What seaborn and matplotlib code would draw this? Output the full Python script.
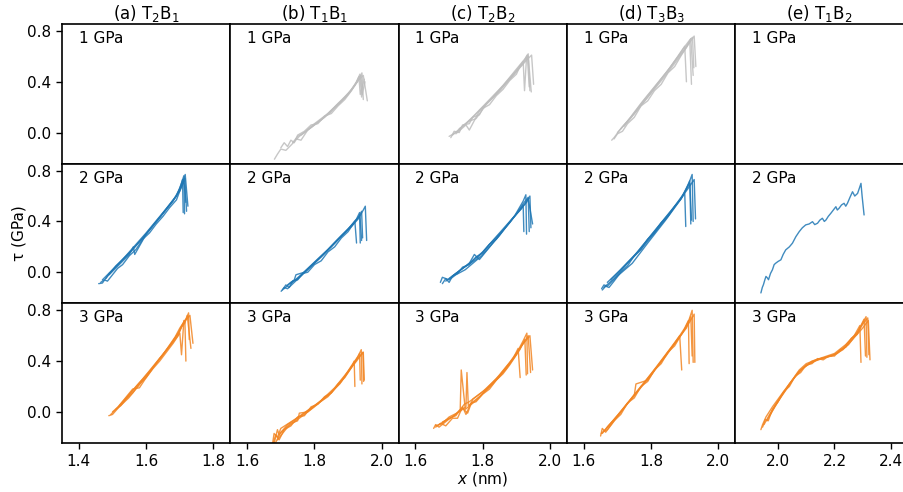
import matplotlib
matplotlib.use("Agg")
import matplotlib.pyplot as plt
import seaborn as sns
import pandas as pd

# ---------------- data ----------------
col_titles = ["(a) T$_2$B$_1$", "(b) T$_1$B$_1$", "(c) T$_2$B$_2$", "(d) T$_3$B$_3$", "(e) T$_1$B$_2$"]
row_labels = ["1 GPa", "2 GPa", "3 GPa"]
col_xlims = [(1.35, 1.85), (1.55, 2.05), (1.55, 2.05), (1.55, 2.05), (1.848, 2.445)]
col_xticks = [[1.4, 1.6, 1.8], [1.6, 1.8, 2.0], [1.6, 1.8, 2.0], [1.6, 1.8, 2.0], [2.0, 2.2, 2.4]]
yticks = [0.0, 0.4, 0.8]

# row 1 (1 GPa)
b1_x = [[1.681, 1.69, 1.70, 1.715, 1.73, 1.755, 1.794, 1.844, 1.893, 1.928, 1.941, 1.945],
        [1.735, 1.75, 1.77, 1.80, 1.84, 1.88, 1.91, 1.93, 1.945, 1.957],
        [1.745, 1.76, 1.78, 1.82, 1.86, 1.90, 1.92, 1.935, 1.94, 1.95],
        [1.76, 1.79, 1.83, 1.87, 1.905, 1.925, 1.932, 1.936, 1.948],
        [1.70, 1.71, 1.72, 1.73, 1.74, 1.75, 1.77, 1.79, 1.81, 1.83, 1.85, 1.87, 1.89, 1.91, 1.93, 1.938, 1.942]]
b1_y = [[-0.21, -0.17, -0.13, -0.14, -0.10, -0.03, 0.05, 0.15, 0.28, 0.40, 0.47, 0.26],
        [-0.08, -0.03, 0.00, 0.07, 0.15, 0.25, 0.34, 0.41, 0.45, 0.25],
        [-0.05, -0.06, 0.02, 0.10, 0.20, 0.30, 0.37, 0.46, 0.28, 0.40],
        [-0.02, 0.04, 0.12, 0.23, 0.32, 0.40, 0.44, 0.30, 0.42],
        [-0.12, -0.08, -0.11, -0.06, -0.08, -0.02, 0.01, 0.06, 0.07, 0.13, 0.15, 0.21, 0.26, 0.33, 0.42, 0.45, 0.30]]

c1_x = [[1.70, 1.72, 1.75, 1.78, 1.82, 1.86, 1.90, 1.925, 1.935, 1.94],
        [1.71, 1.74, 1.77, 1.80, 1.84, 1.88, 1.91, 1.93, 1.945, 1.951],
        [1.72, 1.75, 1.76, 1.79, 1.83, 1.87, 1.90, 1.92, 1.924, 1.93],
        [1.73, 1.76, 1.78, 1.81, 1.85, 1.89, 1.915, 1.935, 1.944],
        [1.705, 1.715, 1.73, 1.74, 1.76, 1.77, 1.79, 1.80, 1.82, 1.84, 1.86, 1.88, 1.90, 1.91, 1.92, 1.932, 1.938]]
c1_y = [[-0.03, 0.00, 0.07, 0.15, 0.26, 0.37, 0.50, 0.58, 0.62, 0.33],
        [-0.02, 0.05, 0.12, 0.20, 0.30, 0.42, 0.51, 0.57, 0.61, 0.38],
        [-0.01, 0.06, 0.02, 0.17, 0.28, 0.40, 0.49, 0.56, 0.33, 0.59],
        [0.03, 0.09, 0.11, 0.22, 0.33, 0.45, 0.53, 0.60, 0.32],
        [-0.04, 0.01, 0.00, 0.06, 0.07, 0.12, 0.14, 0.19, 0.22, 0.29, 0.34, 0.41, 0.46, 0.52, 0.55, 0.61, 0.36]]

d1_x = [[1.683, 1.69, 1.707, 1.74, 1.78, 1.82, 1.856, 1.895, 1.915, 1.923, 1.927],
        [1.70, 1.73, 1.77, 1.81, 1.85, 1.88, 1.90, 1.905],
        [1.71, 1.75, 1.79, 1.83, 1.87, 1.90, 1.915, 1.92],
        [1.72, 1.76, 1.80, 1.84, 1.88, 1.91, 1.928, 1.933],
        [1.69, 1.70, 1.715, 1.73, 1.75, 1.77, 1.79, 1.81, 1.83, 1.85, 1.87, 1.89, 1.905, 1.918, 1.925]]
d1_y = [[-0.06, -0.04, 0.02, 0.12, 0.26, 0.39, 0.51, 0.66, 0.73, 0.75, 0.51],
        [0.00, 0.09, 0.23, 0.36, 0.49, 0.60, 0.68, 0.40],
        [0.03, 0.15, 0.28, 0.42, 0.56, 0.66, 0.72, 0.38],
        [0.05, 0.18, 0.31, 0.44, 0.58, 0.69, 0.76, 0.52],
        [-0.05, -0.01, 0.01, 0.07, 0.12, 0.21, 0.25, 0.33, 0.38, 0.47, 0.52, 0.61, 0.67, 0.74, 0.45]]

# row 2 (2 GPa)
a2_x = [[1.459, 1.47, 1.49, 1.52, 1.55, 1.60, 1.65, 1.69, 1.705, 1.712, 1.714],
        [1.47, 1.50, 1.53, 1.56, 1.60, 1.64, 1.68, 1.70, 1.715, 1.72],
        [1.48, 1.51, 1.55, 1.59, 1.63, 1.67, 1.69, 1.708, 1.716, 1.724],
        [1.49, 1.52, 1.55, 1.562, 1.566, 1.60, 1.64, 1.68, 1.70, 1.708, 1.71],
        [1.465, 1.475, 1.485, 1.50, 1.515, 1.53, 1.55, 1.57, 1.59, 1.61, 1.63, 1.65, 1.67, 1.69, 1.70, 1.712, 1.718]]
a2_y = [[-0.09, -0.085, -0.01, 0.07, 0.16, 0.31, 0.47, 0.60, 0.70, 0.76, 0.46],
        [-0.06, 0.02, 0.10, 0.18, 0.30, 0.43, 0.57, 0.64, 0.74, 0.48],
        [-0.05, 0.05, 0.15, 0.27, 0.40, 0.53, 0.60, 0.70, 0.77, 0.52],
        [-0.02, 0.06, 0.14, 0.20, 0.14, 0.30, 0.43, 0.56, 0.66, 0.73, 0.47],
        [-0.08, -0.06, -0.07, -0.02, 0.03, 0.06, 0.13, 0.18, 0.26, 0.31, 0.38, 0.44, 0.51, 0.57, 0.64, 0.72, 0.55]]

b2_x = [[1.701, 1.71, 1.72, 1.74, 1.78, 1.82, 1.86, 1.90, 1.925, 1.934, 1.936],
        [1.71, 1.73, 1.75, 1.79, 1.83, 1.87, 1.91, 1.93, 1.945, 1.951, 1.955],
        [1.72, 1.74, 1.745, 1.77, 1.81, 1.85, 1.89, 1.92, 1.925],
        [1.73, 1.76, 1.80, 1.84, 1.88, 1.915, 1.935, 1.94],
        [1.705, 1.715, 1.725, 1.735, 1.75, 1.765, 1.78, 1.80, 1.82, 1.84, 1.86, 1.88, 1.90, 1.92, 1.93, 1.94, 1.943]]
b2_y = [[-0.15, -0.12, -0.13, -0.08, 0.02, 0.12, 0.23, 0.34, 0.42, 0.47, 0.23],
        [-0.13, -0.08, -0.05, 0.05, 0.15, 0.26, 0.36, 0.42, 0.49, 0.52, 0.25],
        [-0.10, -0.06, -0.02, 0.00, 0.10, 0.20, 0.31, 0.40, 0.23],
        [-0.09, -0.02, 0.08, 0.18, 0.29, 0.38, 0.45, 0.25],
        [-0.14, -0.10, -0.12, -0.07, -0.06, -0.01, 0.00, 0.06, 0.09, 0.16, 0.20, 0.27, 0.32, 0.40, 0.43, 0.48, 0.27]]

c2_x = [[1.674, 1.68, 1.70, 1.72, 1.748, 1.797, 1.85, 1.896, 1.92, 1.928, 1.93],
        [1.69, 1.71, 1.74, 1.78, 1.82, 1.86, 1.90, 1.93, 1.94, 1.943],
        [1.70, 1.73, 1.76, 1.775, 1.79, 1.83, 1.87, 1.91, 1.92, 1.922],
        [1.71, 1.75, 1.80, 1.84, 1.88, 1.915, 1.935, 1.948],
        [1.68, 1.69, 1.70, 1.71, 1.725, 1.74, 1.76, 1.78, 1.80, 1.82, 1.84, 1.86, 1.88, 1.90, 1.92, 1.935, 1.938]]
c2_y = [[-0.08, -0.04, -0.06, -0.02, 0.02, 0.13, 0.29, 0.45, 0.56, 0.61, 0.30],
        [-0.07, -0.03, 0.03, 0.10, 0.22, 0.33, 0.46, 0.55, 0.60, 0.35],
        [-0.05, 0.01, 0.07, 0.14, 0.10, 0.23, 0.36, 0.49, 0.53, 0.32],
        [-0.03, 0.05, 0.16, 0.28, 0.40, 0.50, 0.58, 0.38],
        [-0.09, -0.05, -0.08, -0.03, -0.01, 0.04, 0.06, 0.12, 0.15, 0.22, 0.26, 0.33, 0.39, 0.46, 0.54, 0.59, 0.32]]

d2_x = [[1.653, 1.66, 1.67, 1.70, 1.744, 1.79, 1.843, 1.887, 1.912, 1.922, 1.925],
        [1.66, 1.69, 1.73, 1.77, 1.81, 1.85, 1.88, 1.90, 1.903],
        [1.67, 1.71, 1.75, 1.79, 1.83, 1.87, 1.90, 1.915, 1.918],
        [1.68, 1.72, 1.76, 1.80, 1.84, 1.88, 1.91, 1.928, 1.932],
        [1.655, 1.665, 1.675, 1.69, 1.71, 1.73, 1.75, 1.77, 1.79, 1.81, 1.83, 1.85, 1.87, 1.89, 1.905, 1.915, 1.92]]
d2_y = [[-0.13, -0.10, -0.11, -0.03, 0.07, 0.23, 0.41, 0.57, 0.70, 0.77, 0.40],
        [-0.12, -0.05, 0.07, 0.18, 0.31, 0.44, 0.55, 0.62, 0.36],
        [-0.08, 0.02, 0.13, 0.26, 0.39, 0.52, 0.63, 0.70, 0.38],
        [-0.06, 0.05, 0.16, 0.29, 0.42, 0.55, 0.66, 0.73, 0.42],
        [-0.14, -0.11, -0.12, -0.07, 0.00, 0.05, 0.13, 0.18, 0.26, 0.31, 0.39, 0.44, 0.52, 0.58, 0.66, 0.72, 0.41]]

e2_x = [[1.939, 1.944, 1.948, 1.953, 1.957, 1.962, 1.966, 1.973, 1.98, 1.986, 1.992, 2.0, 2.01, 2.018,
         2.027, 2.04, 2.051, 2.063, 2.075, 2.086, 2.098, 2.11, 2.122, 2.13, 2.14, 2.148, 2.157, 2.164,
         2.17, 2.178, 2.187, 2.196, 2.205, 2.21, 2.216, 2.225, 2.234, 2.24, 2.246, 2.255, 2.264,
         2.272, 2.282, 2.288, 2.294, 2.298, 2.305]]
e2_y = [[-0.163, -0.12, -0.098, -0.06, -0.033, -0.045, -0.059, -0.01, 0.02, 0.06, 0.072, 0.085, 0.098,
         0.14, 0.176, 0.20, 0.229, 0.28, 0.32, 0.35, 0.373, 0.38, 0.398, 0.375, 0.386, 0.41, 0.425,
         0.40, 0.412, 0.44, 0.464, 0.49, 0.516, 0.49, 0.503, 0.53, 0.543, 0.52, 0.543, 0.59, 0.634,
         0.60, 0.621, 0.66, 0.70, 0.60, 0.451]]

# row 3 (3 GPa)
a3_x = [[1.489, 1.50, 1.52, 1.548, 1.60, 1.647, 1.686, 1.70, 1.72, 1.726, 1.728],
        [1.50, 1.53, 1.57, 1.61, 1.65, 1.68, 1.70, 1.715, 1.718],
        [1.51, 1.55, 1.59, 1.63, 1.67, 1.695, 1.71, 1.73, 1.739],
        [1.52, 1.56, 1.58, 1.60, 1.64, 1.68, 1.70, 1.705, 1.712],
        [1.495, 1.51, 1.525, 1.54, 1.56, 1.58, 1.60, 1.62, 1.64, 1.66, 1.68, 1.695, 1.705, 1.715, 1.722, 1.733]]
a3_y = [[-0.03, -0.02, 0.04, 0.11, 0.28, 0.44, 0.59, 0.66, 0.74, 0.78, 0.57],
        [0.00, 0.07, 0.20, 0.32, 0.45, 0.56, 0.64, 0.72, 0.40],
        [0.02, 0.14, 0.26, 0.39, 0.52, 0.62, 0.70, 0.76, 0.54],
        [0.05, 0.18, 0.19, 0.27, 0.42, 0.55, 0.62, 0.45, 0.72],
        [-0.02, 0.02, 0.05, 0.10, 0.15, 0.22, 0.27, 0.34, 0.40, 0.47, 0.54, 0.60, 0.67, 0.70, 0.76, 0.50]]

b3_x = [[1.675, 1.68, 1.69, 1.70, 1.741, 1.79, 1.84, 1.88, 1.909, 1.93, 1.939, 1.941],
        [1.68, 1.69, 1.695, 1.72, 1.76, 1.80, 1.85, 1.89, 1.92, 1.934, 1.936],
        [1.685, 1.70, 1.73, 1.75, 1.755, 1.78, 1.82, 1.86, 1.90, 1.925, 1.945, 1.948],
        [1.69, 1.72, 1.76, 1.80, 1.84, 1.875, 1.91, 1.918, 1.92],
        [1.678, 1.685, 1.695, 1.71, 1.73, 1.75, 1.77, 1.79, 1.81, 1.83, 1.85, 1.87, 1.89, 1.91, 1.925, 1.944, 1.946]]
b3_y = [[-0.26, -0.17, -0.20, -0.13, -0.06, 0.03, 0.12, 0.24, 0.36, 0.44, 0.49, 0.22],
        [-0.25, -0.14, -0.18, -0.10, -0.03, 0.05, 0.15, 0.28, 0.39, 0.46, 0.25],
        [-0.24, -0.16, -0.09, -0.07, -0.01, 0.00, 0.09, 0.19, 0.32, 0.41, 0.47, 0.25],
        [-0.22, -0.12, -0.04, 0.04, 0.13, 0.22, 0.35, 0.40, 0.20],
        [-0.24, -0.18, -0.22, -0.14, -0.11, -0.04, -0.03, 0.04, 0.06, 0.12, 0.15, 0.22, 0.27, 0.35, 0.40, 0.47, 0.24]]

c3_x = [[1.654, 1.66, 1.67, 1.698, 1.72, 1.733, 1.736, 1.748, 1.78, 1.82, 1.847, 1.896, 1.92, 1.931, 1.933],
        [1.66, 1.68, 1.70, 1.73, 1.75, 1.753, 1.757, 1.79, 1.83, 1.87, 1.91, 1.925, 1.929],
        [1.67, 1.70, 1.72, 1.745, 1.76, 1.80, 1.84, 1.88, 1.915, 1.94, 1.948],
        [1.68, 1.71, 1.74, 1.755, 1.77, 1.81, 1.85, 1.89, 1.905, 1.911],
        [1.66, 1.675, 1.69, 1.71, 1.725, 1.74, 1.75, 1.765, 1.78, 1.80, 1.82, 1.84, 1.86, 1.88, 1.90, 1.92, 1.935, 1.942]]
c3_y = [[-0.13, -0.10, -0.12, -0.06, -0.02, 0.02, 0.33, 0.02, 0.09, 0.20, 0.27, 0.44, 0.56, 0.62, 0.30],
        [-0.11, -0.09, -0.04, 0.00, 0.04, 0.31, 0.05, 0.12, 0.22, 0.34, 0.49, 0.57, 0.29],
        [-0.10, -0.05, -0.03, 0.06, 0.08, 0.16, 0.26, 0.39, 0.52, 0.60, 0.33],
        [-0.08, -0.04, 0.03, -0.01, 0.10, 0.18, 0.29, 0.42, 0.50, 0.27],
        [-0.12, -0.09, -0.11, -0.05, -0.05, 0.04, -0.02, 0.07, 0.08, 0.14, 0.18, 0.25, 0.30, 0.37, 0.45, 0.54, 0.60, 0.31]]

d3_x = [[1.65, 1.655, 1.665, 1.685, 1.745, 1.80, 1.844, 1.893, 1.912, 1.922, 1.925],
        [1.655, 1.67, 1.70, 1.74, 1.78, 1.82, 1.86, 1.885, 1.891],
        [1.66, 1.69, 1.73, 1.75, 1.755, 1.79, 1.83, 1.87, 1.90, 1.911, 1.913],
        [1.67, 1.71, 1.76, 1.80, 1.85, 1.89, 1.915, 1.928, 1.93],
        [1.652, 1.66, 1.67, 1.69, 1.71, 1.73, 1.75, 1.77, 1.79, 1.81, 1.83, 1.85, 1.87, 1.89, 1.905, 1.918, 1.922]]
d3_y = [[-0.19, -0.13, -0.16, -0.09, 0.12, 0.30, 0.44, 0.62, 0.72, 0.80, 0.39],
        [-0.17, -0.12, -0.03, 0.10, 0.23, 0.37, 0.51, 0.60, 0.33],
        [-0.15, -0.06, 0.07, 0.13, 0.22, 0.25, 0.40, 0.54, 0.66, 0.72, 0.38],
        [-0.12, 0.00, 0.16, 0.29, 0.47, 0.61, 0.71, 0.77, 0.39],
        [-0.17, -0.15, -0.14, -0.07, -0.02, 0.07, 0.11, 0.20, 0.24, 0.33, 0.38, 0.47, 0.52, 0.61, 0.66, 0.75, 0.44]]

e3_x = [[1.939, 1.945, 1.957, 1.98, 2.016, 2.05, 2.075, 2.10, 2.135, 2.17, 2.20, 2.23, 2.253, 2.282, 2.30, 2.312, 2.315],
        [1.95, 1.97, 2.00, 2.04, 2.08, 2.12, 2.16, 2.20, 2.24, 2.27, 2.29, 2.294],
        [1.96, 1.99, 2.03, 2.07, 2.11, 2.15, 2.19, 2.23, 2.26, 2.30, 2.32, 2.326],
        [1.97, 2.01, 2.05, 2.09, 2.13, 2.17, 2.21, 2.25, 2.28, 2.305, 2.31],
        [1.945, 1.955, 1.965, 1.98, 2.00, 2.02, 2.04, 2.06, 2.08, 2.10, 2.12, 2.14, 2.16, 2.18, 2.20, 2.22,
         2.24, 2.26, 2.28, 2.30, 2.318, 2.322]]
e3_y = [[-0.14, -0.10, -0.04, 0.04, 0.15, 0.25, 0.33, 0.38, 0.41, 0.43, 0.45, 0.50, 0.56, 0.63, 0.70, 0.75, 0.43],
        [-0.10, -0.02, 0.09, 0.22, 0.33, 0.40, 0.43, 0.46, 0.53, 0.60, 0.68, 0.39],
        [-0.07, 0.05, 0.18, 0.31, 0.38, 0.42, 0.44, 0.49, 0.56, 0.66, 0.72, 0.41],
        [-0.03, 0.12, 0.25, 0.35, 0.40, 0.43, 0.46, 0.53, 0.62, 0.73, 0.44],
        [-0.12, -0.06, -0.07, 0.02, 0.08, 0.16, 0.20, 0.28, 0.31, 0.37, 0.38, 0.42, 0.41, 0.44, 0.44, 0.49,
         0.51, 0.58, 0.61, 0.69, 0.74, 0.45]]

panels = {
    (0, 1): (b1_x, b1_y), (0, 2): (c1_x, c1_y), (0, 3): (d1_x, d1_y),
    (1, 0): (a2_x, a2_y), (1, 1): (b2_x, b2_y), (1, 2): (c2_x, c2_y), (1, 3): (d2_x, d2_y), (1, 4): (e2_x, e2_y),
    (2, 0): (a3_x, a3_y), (2, 1): (b3_x, b3_y), (2, 2): (c3_x, c3_y), (2, 3): (d3_x, d3_y), (2, 4): (e3_x, e3_y),
}
row_colors = ["#bdbdbd", "#1f77b4", "#f28522"]

# ---------------- style ----------------
sns.set_theme(style="ticks")
plt.rcParams.update({
    "font.family": ["DejaVu Sans"],
    "axes.edgecolor": "black",
    "axes.linewidth": 1.2,
    "xtick.color": "black",
    "ytick.color": "black",
    "xtick.labelsize": 11,
    "ytick.labelsize": 11,
    "xtick.major.size": 4.5,
    "ytick.major.size": 4.5,
    "xtick.major.width": 1.0,
    "ytick.major.width": 1.0,
    "text.color": "black",
    "axes.labelcolor": "black",
})

fig = plt.figure(figsize=(9.04, 4.92), dpi=100)
axes = fig.subplots(3, 5, sharey=True, sharex="col", gridspec_kw=dict(wspace=0, hspace=0))
fig.subplots_adjust(left=0.0686, right=0.9995, top=0.9512, bottom=0.0996)

for r in range(3):
    for c in range(5):
        ax = axes[r, c]
        if (r, c) in panels:
            xs, ys = panels[(r, c)]
            rows = []
            for k, (tx, ty) in enumerate(zip(xs, ys)):
                for i, (xv, yv) in enumerate(zip(tx, ty)):
                    rows.append({"run": k, "order": i, "x": xv, "tau": yv})
            df = pd.DataFrame(rows)
            sns.lineplot(data=df, x="x", y="tau", units="run", estimator=None, sort=False,
                         color=row_colors[r], lw=1.0, alpha=0.85, ax=ax, legend=False)
        ax.set_xlabel("")
        ax.set_ylabel("")
        ax.text(0.1, 0.95, row_labels[r], transform=ax.transAxes, ha="left", va="top", fontsize=11)
        ax.set_xlim(*col_xlims[c])
        ax.set_ylim(-0.245, 0.855)
        ax.set_xticks(col_xticks[c])
        ax.set_yticks(yticks)
        ax.tick_params(left=(c == 0), bottom=(r == 2), labelleft=(c == 0), labelbottom=(r == 2))
        if r == 0:
            ax.set_title(col_titles[c], fontsize=12, pad=3)

axes[1, 0].set_ylabel("τ (GPa)", fontsize=11, labelpad=0)
axes[2, 2].set_xlabel("$x$ (nm)", fontsize=11, labelpad=1)

fig.savefig("out.png", dpi=100)
